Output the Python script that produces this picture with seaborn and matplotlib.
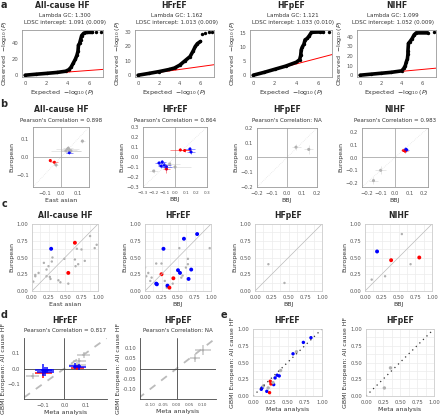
import matplotlib
matplotlib.use("Agg")
import matplotlib.pyplot as plt
import numpy as np
import pandas as pd
import seaborn as sns

sns.set_theme(style="white")
plt.rcParams['font.family'] = ['DejaVu Sans']

W, H = 440, 415
GRAY = "#b0b0b0"
RED = "#ff0000"
BLUE = "#0000ff"

# ---- a: QQ plots
qq_titles = ["All-cause HF", "HFrEF", "HFpEF", "NIHF"]
qq_sub = ["Lambda GC: 1.300\nLDSC intercept: 1.091 (0.009)",
          "Lambda GC: 1.162\nLDSC intercept: 1.013 (0.009)",
          "Lambda GC: 1.121\nLDSC intercept: 1.033 (0.010)",
          "Lambda GC: 1.099\nLDSC intercept: 1.052 (0.009)"]
qq_x = [[0, 1, 2, 3, 3.8, 4.1, 4.3, 4.5, 4.7, 4.85, 4.95, 5.0, 5.1, 5.2, 5.3, 5.5, 5.8, 6.3],
        [0, 1, 2, 3, 3.5, 4, 4.5, 5, 5.3, 5.5, 5.7, 6.0],
        [0, 1, 2, 3, 4, 4.3, 4.4, 4.45, 4.55, 4.7, 4.8, 5.0, 5.2, 5.4, 6.2, 6.5],
        [0, 1, 2, 3, 4, 4.2, 4.35, 4.45, 4.55, 4.6, 4.6, 4.65, 4.8, 5.0, 5.2, 5.4, 6.5]]
qq_y = [[0, 1.2, 2.3, 3.5, 5, 7, 10, 15, 20, 25, 30, 38, 40, 45, 50, 53, 54, 54],
        [0, 1.2, 2.5, 4, 5, 7, 10, 13, 17, 20, 22, 23.5],
        [0, 1, 2.1, 3.2, 4.6, 5.5, 7, 9, 10, 11, 12.5, 13, 14, 15.2, 15.3, 15.3],
        [0, 1, 2, 3, 4.5, 7, 10, 14, 17, 22, 25, 33, 35, 38, 42, 44, 44]]
qq_top_x = [[6.6, 7.1], [6.1, 6.4, 6.8, 7.1], [7.0], [7.1]]
qq_top_y = [[54, 54], [29, 29.5, 30, 30], [15.3], [44.5]]
qq_ymax = [57, 31.5, 16, 47]
qq_yticks = [[0, 20, 40], [0, 10, 20, 30], [0, 5, 10, 15], [0, 10, 20, 30, 40]]
null_x = [0, 7.3]
null_y = [0, 7.3]

# ---- b: effect size comparison (x, y, xerr, yerr, colour group)
b_titles = ["All-cause HF", "HFrEF", "HFpEF", "NIHF"]
b_sub = ["Pearson's Correlation = 0.898", "Pearson's Correlation = 0.864",
         "Pearson's Correlation: NA", "Pearson's Correlation = 0.983"]
b_xlab = ["East asian", "BBJ", "BBJ", "BBJ"]
b_x = [[0.13, 0.03, 0.04, 0.05, 0.06, 0.045, 0.05, -0.065, -0.04, -0.03],
       [-0.2, -0.05, 0.0, -0.15, -0.12, -0.1, -0.13, -0.08, -0.08, 0.05, 0.09, 0.14, 0.15],
       [0.06, 0.145],
       [-0.15, -0.1, 0.06, 0.07, 0.08, 0.075]]
b_y = [[0.09, 0.035, 0.045, 0.04, 0.035, 0.05, 0.025, -0.02, -0.03, -0.045],
       [-0.14, -0.07, -0.1, -0.06, -0.05, -0.08, -0.09, -0.1, -0.12, 0.07, 0.065, 0.08, 0.05],
       [0.07, 0.055],
       [-0.18, -0.1, 0.055, 0.05, 0.06, 0.065]]
b_xe = [[0.015, 0.09, 0.07, 0.05, 0.06, 0.03, 0.02, 0.01, 0.02, 0.01],
        [0.04, 0.1, 0.15, 0.04, 0.04, 0.06, 0.03, 0.05, 0.03, 0.1, 0.05, 0.05, 0.04],
        [0.03, 0.03],
        [0.03, 0.04, 0.015, 0.02, 0.02, 0.015]]
b_ye = [[0.01, 0.01, 0.015, 0.01, 0.01, 0.01, 0.01, 0.008, 0.008, 0.01],
        [0.02, 0.03, 0.02, 0.02, 0.02, 0.03, 0.02, 0.03, 0.04, 0.015, 0.015, 0.02, 0.02],
        [0.02, 0.03],
        [0.03, 0.03, 0.015, 0.015, 0.015, 0.01]]
b_grp = [["n", "n", "n", "n", "n", "n", "b", "r", "r", "n"],
         ["n", "n", "n", "b", "b", "b", "b", "b", "r", "r", "r", "b", "b"],
         ["n", "n"],
         ["n", "n", "r", "r", "b", "b"]]
b_lim = [0.17, 0.3, 0.2, 0.23]
b_ticks = [[-0.1, 0.0, 0.1], [-0.3, -0.2, -0.1, 0.0, 0.1, 0.2, 0.3],
           [-0.2, -0.1, 0.0, 0.1, 0.2], [-0.2, -0.1, 0.0, 0.1, 0.2]]

# ---- c: p-value style comparison
c_x = [[0.02, 0.05, 0.05, 0.1, 0.18, 0.22, 0.22, 0.25, 0.27, 0.28, 0.3, 0.31, 0.4, 0.43, 0.49, 0.55,
        0.65, 0.66, 0.68, 0.7, 0.75, 0.8, 0.88, 0.95, 0.98, 0.29, 0.65, 0.55],
       [0.0, 0.02, 0.05, 0.08, 0.1, 0.17, 0.25, 0.3, 0.33, 0.42, 0.52, 0.55, 0.57, 0.62, 0.65, 0.65, 0.98,
        0.28, 0.59, 0.79, 0.5, 0.53, 0.7, 0.66, 0.18, 0.17, 0.34, 0.25, 0.43, 0.37],
       [0.2, 0.44],
       [0.1, 0.3, 0.55, 0.68, 0.18, 0.39, 0.81]]
c_y = [[0.14, 0.22, 0.24, 0.27, 0.42, 0.22, 0.32, 0.37, 0.21, 0.18, 0.44, 0.5, 0.16, 0.13, 0.48, 0.11,
        0.47, 0.37, 0.63, 0.4, 0.62, 0.45, 0.82, 0.64, 0.69, 0.63, 0.72, 0.27],
       [0.35, 0.22, 0.27, 0.15, 0.2, 0.41, 0.41, 0.15, 0.05, 0.11, 0.64, 0.2, 0.23, 0.35, 0.48, 0.4, 0.64,
        0.63, 0.78, 0.85, 0.31, 0.27, 0.32, 0.18, 0.1, 0.11, 0.08, 0.25, 0.19, 0.05],
       [0.4, 0.12],
       [0.17, 0.22, 0.85, 0.4, 0.59, 0.46, 0.5]]
c_grp = [["n"] * 25 + ["b", "r", "r"],
         ["n"] * 17 + ["b"] * 10 + ["r"] * 3,
         ["n", "n"],
         ["n", "n", "n", "n", "b", "r", "r"]]

# ---- d: meta analysis vs GBMI effect sizes
d_titles = ["HFrEF", "HFpEF"]
d_sub = ["Pearson's Correlation = 0.817", "Pearson's Correlation: NA"]
d_x = [[-0.15, 0.07, 0.09, 0.06, -0.1, -0.09, -0.08, 0.07, 0.05, -0.1, 0.06],
       [0.07, 0.1]]
d_y = [[-0.05, 0.05, 0.09, 0.02, -0.01, -0.02, -0.01, 0.01, 0.015, -0.03, 0.005],
       [0.05, 0.09]]
d_xe = [[0.03, 0.03, 0.03, 0.04, 0.04, 0.04, 0.03, 0.03, 0.03, 0.04, 0.03],
        [0.02, 0.03]]
d_ye = [[0.02, 0.02, 0.02, 0.02, 0.04, 0.03, 0.02, 0.02, 0.02, 0.03, 0.015],
        [0.02, 0.025]]
d_grp = [["n", "n", "n", "n", "b", "b", "b", "b", "b", "r", "r"], ["n", "n"]]
d_xlim = [(-0.19, 0.2), (-0.14, 0.15)]
d_ylim = [(-0.2, 0.2), (-0.15, 0.15)]
d_ticks = [[-0.1, 0.0, 0.1], [-0.10, -0.05, 0.00, 0.05, 0.10]]

# ---- e: meta analysis vs GBMI p-values
e_x = [[0.12, 0.13, 0.2, 0.32, 0.35, 0.38, 0.3, 0.58, 0.73, 0.84, 0.25, 0.26, 0.24, 0.15, 0.29, 0.4, 0.63, 0.22],
       [0.36, 0.27]]
e_y = [[0.1, 0.12, 0.07, 0.27, 0.31, 0.3, 0.17, 0.63, 0.8, 0.87, 0.22, 0.18, 0.05, 0.15, 0.2, 0.38, 0.66, 0.12],
       [0.42, 0.12]]
e_grp = [["b"] * 10 + ["r"] * 3 + ["n"] * 5, ["n", "n"]]

pal = {"n": GRAY, "b": BLUE, "r": RED}
unit_ticks = [0.0, 0.25, 0.5, 0.75, 1.0]
unit_labels = ["0.00", "0.25", "0.50", "0.75", "1.00"]

fig = plt.figure(figsize=(4.4, 4.15), dpi=100)


def box(l, t, r, b):
    return fig.add_axes([l / W, 1 - b / H, (r - l) / W, (b - t) / H])


def ftext(x, y, s, **kw):
    fig.text(x / W, 1 - y / H, s, **kw)


def style(ax, color="#999999"):
    for sp in ax.spines.values():
        sp.set_color(color)
        sp.set_linewidth(0.6)
    ax.tick_params(length=1.8, width=0.5, pad=1, labelsize=3.8, colors="#555555")
    ax.xaxis.label.set_size(4.5)
    ax.yaxis.label.set_size(4.5)
    ax.xaxis.label.set_color("#333333")
    ax.yaxis.label.set_color("#333333")
    ax.xaxis.labelpad = 1.5
    ax.yaxis.labelpad = 1.5


TS = 5.6   # title size
SS = 4.0   # subtitle size

# row a
a_boxes = [(22, 30, 103, 77), (135, 30, 214, 77), (250, 30, 332, 77), (357, 30, 436, 77)]
for i, bx in enumerate(a_boxes):
    ax = box(*bx)
    sns.lineplot(x=null_x, y=null_y, color=RED, lw=0.7, ax=ax)
    ax.plot(qq_x[i], qq_y[i], color="black", lw=2.6, solid_capstyle="round")
    sns.scatterplot(x=qq_x[i], y=qq_y[i], color="black", s=6, linewidth=0, ax=ax)
    sns.scatterplot(x=qq_top_x[i], y=qq_top_y[i], color="black", s=6, marker="o", linewidth=0, ax=ax)
    ax.set_xlim(-0.3, 7.3)
    ax.set_ylim(-qq_ymax[i] * 0.04, qq_ymax[i])
    ax.set_xticks([0, 2, 4, 6])
    ax.set_yticks(qq_yticks[i])
    ax.set_xlabel(r"Expected  $-\log_{10}(P)$")
    ax.set_ylabel(r"Observed  $-\log_{10}(P)$")
    style(ax)
    cx = min((bx[0] + bx[2]) / 2 + 2, 393)
    ftext((bx[0] + bx[2]) / 2, 6, qq_titles[i], ha="center", va="center", fontsize=TS, fontweight="bold")
    ftext(cx, 19, qq_sub[i], ha="center", va="center", fontsize=SS, color="#333333", linespacing=1.3)

# row b
b_boxes = [(33, 127, 89, 187), (143, 127, 207, 187), (257, 128, 317, 187), (362, 128, 428, 187)]
for i, bx in enumerate(b_boxes):
    ax = box(*bx)
    lim = b_lim[i]
    ax.plot([-lim, lim], [-lim, lim], color="#dddddd", lw=0.5, ls=":")
    ax.axhline(0, color="#999999", lw=0.5)
    ax.axvline(0, color="#999999", lw=0.5)
    df = pd.DataFrame({"x": b_x[i], "y": b_y[i], "xe": b_xe[i], "ye": b_ye[i], "g": b_grp[i]})
    for g in ["n", "r", "b"]:
        sub = df[df.g == g]
        ax.errorbar(sub.x, sub.y, xerr=sub.xe, yerr=sub.ye, fmt="none",
                    ecolor=pal[g], alpha=0.35 if g == "n" else 0.5, lw=0.6)
    sns.scatterplot(data=df, x="x", y="y", hue="g", palette=pal, s=5, linewidth=0,
                    legend=False, ax=ax)
    ax.set_xlim(-lim, lim)
    ax.set_ylim(-lim, lim)
    ax.set_xticks(b_ticks[i])
    ax.set_yticks(b_ticks[i])
    ax.set_xlabel(b_xlab[i])
    ax.set_ylabel("European")
    style(ax)
    if i == 1:
        ax.tick_params(axis="x", labelsize=3.1)
    cx = (bx[0] + bx[2]) / 2
    ftext(cx, 110, b_titles[i], ha="center", va="center", fontsize=TS, fontweight="bold")
    ftext(cx, 120, b_sub[i], ha="center", va="center", fontsize=SS, color="#333333")

# row c
c_boxes = [(32, 224, 98, 291), (145, 224, 211, 291), (255, 224, 322, 291), (365, 224, 432, 291)]
for i, bx in enumerate(c_boxes):
    ax = box(*bx)
    ax.set_xticks(unit_ticks)
    ax.set_yticks(unit_ticks)
    ax.set_xticks([0.125, 0.375, 0.625, 0.875], minor=True)
    ax.set_yticks([0.125, 0.375, 0.625, 0.875], minor=True)
    ax.grid(True, which="both", color="#ececec", lw=0.5)
    ax.plot([0, 1], [0, 1], color="#bbbbbb", lw=0.5)
    df = pd.DataFrame({"x": c_x[i], "y": c_y[i], "g": c_grp[i]})
    df["s"] = df.g.map({"n": 3, "r": 8, "b": 8})
    sns.scatterplot(data=df, x="x", y="y", hue="g", palette=pal, size="s", sizes=(3, 8),
                    linewidth=0, legend=False, ax=ax)
    ax.set_xlim(0, 1)
    ax.set_ylim(0, 1)
    ax.set_xticklabels(unit_labels)
    ax.set_yticklabels(unit_labels)
    ax.set_xlabel(b_xlab[i])
    ax.set_ylabel("European")
    style(ax, "#cccccc")
    ax.tick_params(which="minor", length=0)
    cx = (bx[0] + bx[2]) / 2
    ftext(cx, 215, b_titles[i], ha="center", va="center", fontsize=TS, fontweight="bold")

# row d
d_boxes = [(24, 338, 107, 399), (140, 338, 216, 399)]
for i, bx in enumerate(d_boxes):
    ax = box(*bx)
    ax.plot([-0.3, 0.3], [-0.3, 0.3], color="#bbbbbb", lw=1.3, ls=(0, (4, 4)))
    ax.axhline(0, color="#444444", lw=0.6)
    ax.axvline(0, color="#444444", lw=0.6)
    df = pd.DataFrame({"x": d_x[i], "y": d_y[i], "xe": d_xe[i], "ye": d_ye[i], "g": d_grp[i]})
    for g in ["n", "r", "b"]:
        sub = df[df.g == g]
        ax.errorbar(sub.x, sub.y, xerr=sub.xe, yerr=sub.ye, fmt="none",
                    ecolor=pal[g], alpha=0.8 if g != "n" else 0.6, lw=1.3)
    sns.scatterplot(data=df, x="x", y="y", hue="g", palette=pal, s=3, linewidth=0,
                    legend=False, ax=ax)
    ax.set_xlim(*d_xlim[i])
    ax.set_ylim(*d_ylim[i])
    ax.set_xticks(d_ticks[i])
    ax.set_yticks(d_ticks[i])
    if i == 1:
        ax.set_xticklabels(["-0.10", "-0.05", "0.00", "0.05", "0.10"])
        ax.set_yticklabels(["-0.10", "-0.05", "0.00", "0.05", "0.10"])
    ax.set_xlabel("Meta analysis")
    ax.set_ylabel("GBMI European: All cause HF")
    style(ax, "#444444")
    if i == 1:
        ax.tick_params(axis="x", labelsize=3.1)
    ax.yaxis.labelpad = 0.8
    ax.spines["top"].set_visible(False)
    ax.spines["right"].set_visible(False)
    cx = (bx[0] + bx[2]) / 2
    ftext(cx, 320, d_titles[i], ha="center", va="center", fontsize=TS, fontweight="bold")
    ftext(cx, 331, d_sub[i], ha="center", va="center", fontsize=SS, color="#333333")

# row e
e_boxes = [(253, 329, 322, 396), (366, 329, 434, 396)]
for i, bx in enumerate(e_boxes):
    ax = box(*bx)
    ax.set_xticks(unit_ticks)
    ax.set_yticks(unit_ticks)
    ax.set_xticks([0.125, 0.375, 0.625, 0.875], minor=True)
    ax.set_yticks([0.125, 0.375, 0.625, 0.875], minor=True)
    ax.grid(True, which="both", color="#ececec", lw=0.5)
    ax.plot([0, 1], [0, 1], color="#333333", lw=0.9, ls=(0, (1, 3)))
    df = pd.DataFrame({"x": e_x[i], "y": e_y[i], "g": e_grp[i]})
    sns.scatterplot(data=df, x="x", y="y", hue="g", palette=pal, s=6, linewidth=0,
                    legend=False, ax=ax)
    ax.set_xlim(0, 1)
    ax.set_ylim(0, 1)
    ax.set_xticklabels(unit_labels)
    ax.set_yticklabels(unit_labels)
    ax.set_xlabel("Meta analysis")
    ax.set_ylabel("GBMI European: All cause HF")
    style(ax, "#cccccc")
    ax.tick_params(which="minor", length=0)
    cx = (bx[0] + bx[2]) / 2
    ftext(cx, 320, d_titles[i], ha="center", va="center", fontsize=TS, fontweight="bold")

# panel letters
for lab, x, y in [("a", 4, 5), ("b", 4, 104), ("c", 4, 204), ("d", 4, 315), ("e", 224, 315)]:
    ftext(x, y, lab, ha="center", va="center", fontsize=7, fontweight="bold")

fig.savefig("out.png", dpi=100)
